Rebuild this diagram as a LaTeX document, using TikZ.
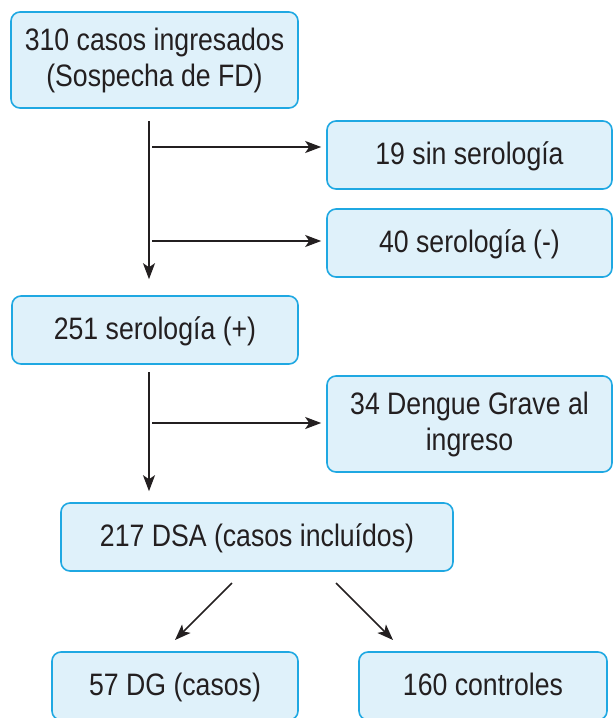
\documentclass[tikz,border=0pt]{standalone}
\usepackage{fontspec}
\setmainfont{Liberation Sans}[FakeStretch=0.86]
\usetikzlibrary{arrows.meta}
\definecolor{boxfill}{HTML}{DFF1FA}
\definecolor{boxline}{HTML}{1FA8E2}
\definecolor{ink}{HTML}{231F20}
\tikzset{
  box/.style={draw=boxline, fill=boxfill, line width=1.6pt, rounded corners=9pt,
    inner sep=0pt, align=center, text=ink,
    font=\fontsize{31}{36}\selectfont},
  one/.style={text height=23pt, text depth=5pt},
  arr/.style={draw=ink, line width=1.5pt, -{Stealth[length=16pt,width=12pt,inset=4pt]}}
}
\begin{document}
\begin{tikzpicture}[x=1pt,y=-1pt]
\useasboundingbox (0,0) rectangle (613,718);
\node[box, minimum width=287pt, minimum height=96pt] (top) at (154.5,60) {310 casos ingresados\\(Sospecha de FD)};
\node[box, one, minimum width=285pt, minimum height=68pt] (s19) at (469.5,155) {19 sin serología};
\node[box, one, minimum width=285pt, minimum height=68pt] (s40) at (469.5,243) {40 serología (-)};
\node[box, one, minimum width=286pt, minimum height=68pt] (s251) at (155,330) {251 serología (+)};
\node[box, minimum width=285pt, minimum height=96pt] (s34) at (469.5,424) {34 Dengue Grave al\\ingreso};
\node[box, one, minimum width=392pt, minimum height=68pt] (s217) at (257,537) {217 DSA (casos incluídos)};
\node[box, one, minimum width=246pt, minimum height=68pt] (s57) at (175,686) {57 DG (casos)};
\node[box, one, minimum width=248pt, minimum height=68pt] (s160) at (483,686) {160 controles};

% trunk 1
\coordinate (t1) at (149,121);
\draw[arr, shorten >=16pt] (t1) -- (t1 |- s251.north);
\coordinate (h1) at (152,147);
\coordinate (h2) at (152,241);
\draw[arr, shorten >=5pt] (h1) -- (h1 -| s19.west);
\draw[arr, shorten >=5pt] (h2) -- (h2 -| s40.west);

% trunk 2
\coordinate (t2) at (149,372);
\draw[arr, shorten >=11pt] (t2) -- (t2 |- s217.north);
\coordinate (h3) at (152,423);
\draw[arr, shorten >=5pt] (h3) -- (h3 -| s34.west);

% split
\coordinate (d1) at (232,583);
\coordinate (e1) at (175,640);
\coordinate (d2) at (336,583);
\coordinate (e2) at (393,640);
\draw[arr] (d1) -- (e1);
\draw[arr] (d2) -- (e2);
\end{tikzpicture}
\end{document}
